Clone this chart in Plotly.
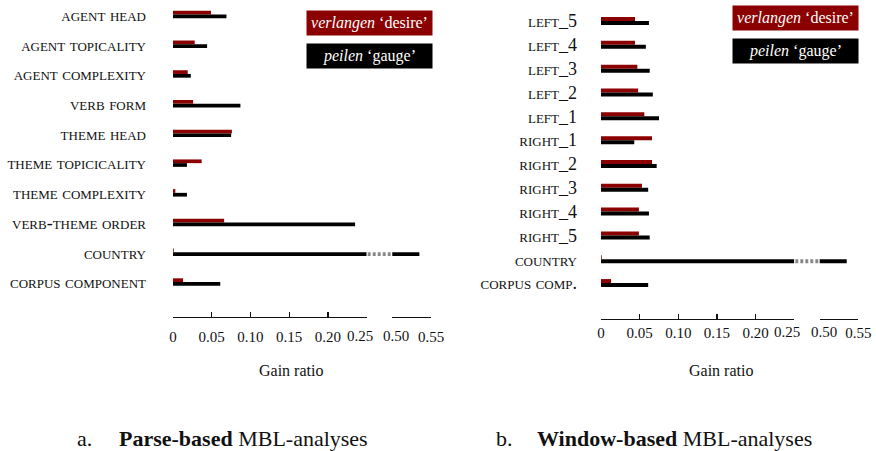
import plotly.graph_objects as go

# ---------------- data ----------------
series_names = ["<i>verlangen</i> ‘desire’", "<i>peilen</i> ‘gauge’"]
series_colors = ["#8b0000", "#000000"]

parse_features = ["agent head", "agent topicality", "agent complexity", "verb form",
                  "theme head", "theme topicicality", "theme complexity",
                  "verb-theme order", "country", "corpus component"]
parse_verlangen = [0.049, 0.028, 0.019, 0.026, 0.076, 0.037, 0.003, 0.066, 0.001, 0.013]
parse_peilen = [0.069, 0.044, 0.023, 0.087, 0.075, 0.018, 0.018, 0.235, 0.535, 0.061]

window_features = ["left_5", "left_4", "left_3", "left_2", "left_1", "right_1",
                   "right_2", "right_3", "right_4", "right_5", "country", "corpus comp."]
window_verlangen = [0.044, 0.044, 0.047, 0.048, 0.056, 0.066, 0.066, 0.053, 0.049, 0.049, 0.001, 0.013]
window_peilen = [0.062, 0.058, 0.063, 0.067, 0.075, 0.043, 0.072, 0.061, 0.062, 0.063, 0.535, 0.061]

low_ticks = [0, 0.05, 0.10, 0.15, 0.20, 0.25]
low_tick_labels = ["0", "0.05", "0.10", "0.15", "0.20", "0.25"]
high_ticks = [0.50, 0.55]
high_tick_labels = ["0.50", "0.55"]

segment_ranges = [[0, 0.25], [0.25, 0.50], [0.50, 0.55]]
axis_title = "Gain ratio"
captions = [("a.", "<b>Parse-based</b> MBL-analyses"), ("b.", "<b>Window-based</b> MBL-analyses")]

# ---------------- layout helpers ----------------
W, H = 876, 451
SERIF = "Liberation Serif, Times New Roman, serif"
TICKFONT = dict(family=SERIF, size=15, color="#111")


def px(x):
    return x / W


def py(y):
    return 1 - y / H


fig = go.Figure()

panels = [
    dict(features=parse_features, values=[parse_verlangen, parse_peilen],
         seg_px=[(173, 366.7), (366.7, 392.3), (392.3, 431)],
         yname="y", ydom=(0, 296.9), yrange=[9.5, -0.488], barw=0.125,
         axis_y=316.7, standoff=26, tick_standoff=6, legend=(307, 432, 11, 35, 44, 68),
         title_x=291, cap_x=(75, 117)),
    dict(features=window_features, values=[window_verlangen, window_peilen],
         seg_px=[(601, 794.3), (794.3, 819.7), (819.7, 858.3)],
         yname="y2", ydom=(0, 300), yrange=[11.71, -0.882], barw=0.168,
         axis_y=319, standoff=23, tick_standoff=0, legend=(733, 858, 6, 30, 39, 63),
         title_x=721, cap_x=(494, 535)),
]

layout = dict(
    width=W, height=H, margin=dict(l=0, r=0, t=0, b=0, autoexpand=False),
    paper_bgcolor="white", plot_bgcolor="white", barmode="overlay",
    showlegend=False, font=dict(family=SERIF, color="#111"),
)
annotations = []
ax_counter = 1
for pi, p in enumerate(panels):
    ykey = "yaxis" if p["yname"] == "y" else "yaxis2"
    seg_names = []
    for si in range(3):
        xname = "x" if ax_counter == 1 else f"x{ax_counter}"
        xkey = "xaxis" if ax_counter == 1 else f"xaxis{ax_counter}"
        ax_counter += 1
        seg_names.append(xname)
        x0, x1 = p["seg_px"][si]
        ax = dict(domain=[px(x0), px(x1)], range=segment_ranges[si], anchor="free",
                  position=py(p["axis_y"]), fixedrange=True, showgrid=False,
                  zeroline=False, automargin=False)
        if si == 1:
            ax.update(visible=False)
        else:
            # labels at the axis break are drawn as nudged annotations (as in the original)
            if si == 0:
                vals, texts = low_ticks, low_tick_labels[:-1] + [""]
                brk_val, brk_txt, brk_shift = low_ticks[-1], low_tick_labels[-1], -7
            else:
                vals, texts = high_ticks, [""] + high_tick_labels[1:]
                brk_val, brk_txt, brk_shift = high_ticks[0], high_tick_labels[0], 4
            ax.update(showline=True, linecolor="#111", linewidth=1.4,
                      ticks="inside", ticklen=5, tickwidth=1.4, tickcolor="#111",
                      tickmode="array", tickvals=vals, ticktext=texts,
                      tickfont=TICKFONT, ticklabelstandoff=p["tick_standoff"])
            annotations.append(dict(
                xref=xname, yref="paper", x=brk_val, y=py(p["axis_y"]), xshift=brk_shift,
                yshift=-(p["tick_standoff"] + 3), xanchor="center", yanchor="top",
                text=brk_txt, showarrow=False, font=TICKFONT))
        layout[xkey] = ax
        for k in range(2):
            w = p["barw"]
            marker = dict(color=series_colors[k], line=dict(width=0))
            if si == 1:
                marker = dict(color="white", line=dict(width=0),
                              pattern=dict(shape="|", fgcolor=series_colors[k], bgcolor="white",
                                           size=5, solidity=0.55))
            fig.add_trace(go.Bar(
                orientation="h", x=p["values"][k], y=p["features"],
                xaxis=xname, yaxis=p["yname"], width=w,
                offset=-w if k == 0 else 0, marker=marker,
                name=series_names[k], showlegend=False, hoverinfo="skip"))
    layout[ykey] = dict(
        domain=[py(p["ydom"][1]), py(p["ydom"][0])], anchor=seg_names[0],
        type="category", categoryorder="array", categoryarray=p["features"],
        range=p["yrange"], showgrid=False, zeroline=False, showline=False,
        ticks="", ticklabelstandoff=p["standoff"], fixedrange=True, automargin=False,
        tickfont=dict(family=SERIF, size=18, color="#111", variant="small-caps"))

    # legend boxes
    lx0, lx1, r0, r1, b0, b1 = p["legend"]
    for k, (t0, t1) in enumerate([(r0, r1), (b0, b1)]):
        annotations.append(dict(
            xref="paper", yref="paper", x=px((lx0 + lx1) / 2), y=py((t0 + t1) / 2),
            xanchor="center", yanchor="middle", text=series_names[k], showarrow=False,
            bgcolor=series_colors[k], width=lx1 - lx0, height=t1 - t0, borderpad=0,
            font=dict(family=SERIF, size=16, color="white")))
    # axis title
    annotations.append(dict(xref="paper", yref="paper", x=px(p["title_x"]), y=py(370),
                            xanchor="center", yanchor="middle", text=axis_title,
                            showarrow=False, font=dict(family=SERIF, size=16, color="#111")))
    # captions
    annotations.append(dict(xref="paper", yref="paper", x=px(p["cap_x"][0]), y=py(438),
                            xanchor="left", yanchor="middle", text=captions[pi][0],
                            showarrow=False, font=dict(family=SERIF, size=22, color="#111")))
    annotations.append(dict(xref="paper", yref="paper", x=px(p["cap_x"][1]), y=py(438),
                            xanchor="left", yanchor="middle", text=captions[pi][1],
                            showarrow=False, font=dict(family=SERIF, size=22, color="#111")))

layout["annotations"] = annotations
fig.update_layout(**layout)
fig.write_html("out.html", config={"displayModeBar": False, "staticPlot": True},
               post_script="document.body.style.margin='0';document.body.style.overflow='hidden';")
